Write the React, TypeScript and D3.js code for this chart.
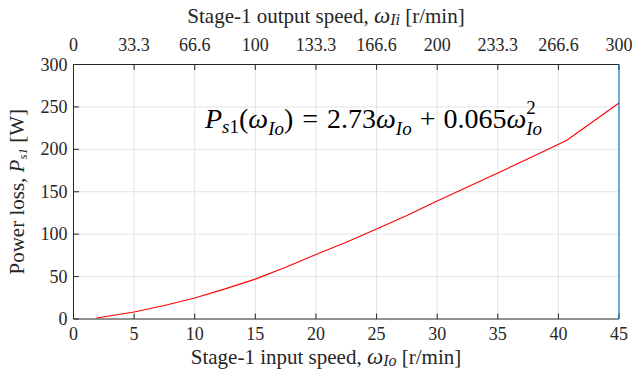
import * as d3 from "d3";
import { useEffect, useRef } from "react";

// values
const inputSpeed = [1.9, 5, 7.5, 10, 12.5, 15, 17.5, 20, 22.5, 25, 27.5, 30, 32.5, 35, 37.5, 40.7, 45];
const powerLoss = [1.2, 8.3, 16, 24.8, 35.5, 47, 61, 76, 90.5, 106, 122, 139, 155.5, 172, 189, 210.8, 254.7];

const bottomTicks = [0, 5, 10, 15, 20, 25, 30, 35, 40, 45];
const topTickLabels = ["0", "33.3", "66.6", "100", "133.3", "166.6", "200", "233.3", "266.6", "300"];
const yTicks = [0, 50, 100, 150, 200, 250, 300];

const W = 633;
const H = 379;
const FONT = "'Liberation Serif', 'Times New Roman', serif";

export default function App() {
  const ref = useRef<SVGSVGElement>(null);

  useEffect(() => {
    if (!ref.current) return;
    const svg = d3.select(ref.current);
    svg.selectAll("*").remove();

    const m = { top: 64.5, right: 14, bottom: 60, left: 73.5 };
    const x = d3.scaleLinear().domain([0, 45]).range([m.left, W - m.right]);
    const y = d3.scaleLinear().domain([0, 300]).range([H - m.bottom, m.top]);
    const x0 = x(0), x1 = x(45), y0 = y(0), y1 = y(300);

    svg.append("rect").attr("width", W).attr("height", H).attr("fill", "#fff");

    // grid
    const grid = svg.append("g").attr("stroke", "#e3e3e3").attr("stroke-width", 1);
    bottomTicks.slice(1, -1).forEach((t) => {
      grid.append("line").attr("x1", x(t)).attr("x2", x(t)).attr("y1", y0).attr("y2", y1);
    });
    yTicks.slice(1, -1).forEach((t) => {
      grid.append("line").attr("x1", x0).attr("x2", x1).attr("y1", y(t)).attr("y2", y(t));
    });

    // curve
    const pts = inputSpeed.map((v, i) => [x(v), y(powerLoss[i])] as [number, number]);
    svg.append("path")
      .datum(pts)
      .attr("d", d3.line())
      .attr("fill", "none")
      .attr("stroke", "#ff0000")
      .attr("stroke-width", 1.1);

    // frame
    const ax = svg.append("g").attr("stroke", "#262626").attr("stroke-width", 1).attr("fill", "none");
    ax.append("line").attr("x1", x0).attr("x2", x1).attr("y1", y0).attr("y2", y0);
    ax.append("line").attr("x1", x0).attr("x2", x1).attr("y1", y1).attr("y2", y1);
    ax.append("line").attr("x1", x0).attr("x2", x0).attr("y1", y0).attr("y2", y1);
    svg.append("line").attr("x1", x1).attr("x2", x1).attr("y1", y0).attr("y2", y1)
      .attr("stroke", "#0072bd").attr("stroke-width", 1.2);

    const tl = 5.5;
    bottomTicks.forEach((t) => {
      ax.append("line").attr("x1", x(t)).attr("x2", x(t)).attr("y1", y0).attr("y2", y0 - tl);
      ax.append("line").attr("x1", x(t)).attr("x2", x(t)).attr("y1", y1).attr("y2", y1 + tl);
    });
    yTicks.forEach((t) => {
      ax.append("line").attr("x1", x0).attr("x2", x0 + tl).attr("y1", y(t)).attr("y2", y(t));
    });

    const txt = svg.append("g").attr("font-family", FONT).attr("fill", "#262626").attr("font-size", 18);
    bottomTicks.forEach((t) => {
      txt.append("text").attr("x", x(t)).attr("y", y0 + 21).attr("text-anchor", "middle").text(t);
    });
    bottomTicks.forEach((t, i) => {
      txt.append("text").attr("x", x(t)).attr("y", y1 - 14).attr("text-anchor", "middle").text(topTickLabels[i]);
    });
    yTicks.forEach((t) => {
      txt.append("text").attr("x", x0 - 6).attr("y", y(t) + 6).attr("text-anchor", "end").text(t);
    });

    // axis titles
    const titleX = 326;
    const xt = txt.append("text").attr("x", titleX).attr("y", H - 15)
      .attr("text-anchor", "middle").attr("font-size", 21);
    xt.append("tspan").text("Stage-1 input speed, ");
    xt.append("tspan").attr("font-style", "italic").attr("font-size", 23).text("ω");
    xt.append("tspan").attr("font-style", "italic").attr("font-size", 16).attr("dy", 2).text("Io");
    xt.append("tspan").attr("dy", -2).text(" [r/min]");

    const tt = txt.append("text").attr("x", titleX).attr("y", 23)
      .attr("text-anchor", "middle").attr("font-size", 21);
    tt.append("tspan").text("Stage-1 output speed, ");
    tt.append("tspan").attr("font-style", "italic").attr("font-size", 23).text("ω");
    tt.append("tspan").attr("font-style", "italic").attr("font-size", 16).attr("dy", 2).text("Ii");
    tt.append("tspan").attr("dy", -2).text(" [r/min]");

    const yt = txt.append("text")
      .attr("transform", `translate(24,${(y0 + y1) / 2}) rotate(-90)`)
      .attr("text-anchor", "middle").attr("font-size", 21);
    yt.append("tspan").text("Power loss, ");
    yt.append("tspan").attr("font-style", "italic").text("P");
    yt.append("tspan").attr("font-style", "italic").attr("font-size", 13).attr("dy", 3).text("s1");
    yt.append("tspan").attr("dy", -3).text(" [W]");

    // equation
    const eq = svg.append("text").attr("x", 205).attr("y", 128)
      .attr("font-family", FONT).attr("font-size", 28).attr("fill", "#000");
    const sub = 19;
    eq.append("tspan").attr("font-style", "italic").text("P");
    eq.append("tspan").attr("font-size", sub).attr("dy", 5).attr("font-style", "italic").text("s");
    eq.append("tspan").attr("font-size", sub).text("1");
    eq.append("tspan").attr("dy", -5).text("(");
    eq.append("tspan").attr("font-style", "italic").text("ω");
    eq.append("tspan").attr("font-size", sub).attr("font-style", "italic").attr("dy", 7).text("Io");
    eq.append("tspan").attr("dy", -7).text(")");
    eq.append("tspan").attr("dx", 9).text("=");
    eq.append("tspan").attr("dx", 9).text("2.73");
    eq.append("tspan").attr("font-style", "italic").text("ω");
    eq.append("tspan").attr("font-size", sub).attr("font-style", "italic").attr("dy", 7).text("Io");
    eq.append("tspan").attr("dy", -7).attr("dx", 8).text("+");
    eq.append("tspan").attr("dx", 8).text("0.065");
    eq.append("tspan").attr("font-style", "italic").text("ω");
    eq.append("tspan").attr("font-size", sub).attr("dy", -14).text("2");
    eq.append("tspan").attr("font-size", sub).attr("font-style", "italic").attr("dx", -9.5).attr("dy", 21).text("Io");
  }, []);

  return (
    <svg ref={ref} width={W} height={H} style={{ position: "absolute", left: 0, top: 0 }} />
  );
}
